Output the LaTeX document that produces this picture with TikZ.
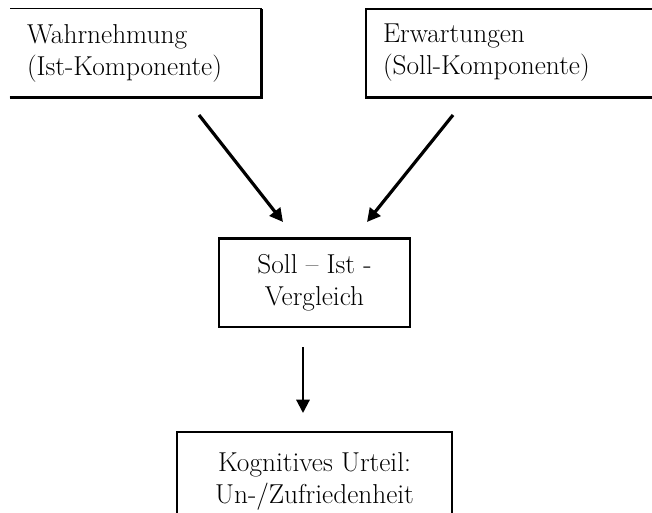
\documentclass[tikz,border=0pt]{standalone}
\usetikzlibrary{arrows.meta}

\begin{document}
\begin{tikzpicture}[x=0.75pt, y=-0.75pt,
	every node/.style={font=\fontsize{20.5}{24}\selectfont},
	box/.style={draw, line width=0.8pt, inner ysep=0pt},
	pfeil/.style={-{Triangle[length=10pt,width=10pt]}, line width=2.4pt}]
		\useasboundingbox (0,0) rectangle (652,513);
		\clip (0,0) rectangle (652,513);

		\path (135.5,53) node[minimum width=188.25pt, minimum height=66pt, inner xsep=12.75pt,
			text width=162.75pt, align=left] (ist) {Wahrnehmung\\(Ist-Komponente)}
		(523,53) node[box, minimum width=235.5pt, minimum height=66pt, inner xsep=12.75pt,
			text width=210pt, align=left] (soll) {Erwartungen\\(Soll-Komponente)}
		(314.5,283) node[box, minimum width=143.25pt, minimum height=66pt, align=center] (vgl) {Soll -- Ist -\\Vergleich}
		(314.5,481) node[box, minimum width=206.25pt, minimum height=73.5pt, align=center] (urteil) {Kognitives Urteil:\\Un-/Zufriedenheit};

		% Rahmen und dicke Kanten
		\draw[line width=0.8pt] (ist.south west) -- (ist.south east) -- (ist.north east) -- (ist.north west);
		\draw[line width=2.4pt] (ist.south west) -- (ist.south east) -- (ist.north east);
		\draw[line width=2.4pt] (soll.south west) -- (soll.south east);
		\draw[line width=2.4pt] (vgl.north west) -- (vgl.north east);

		\coordinate (a1) at (199,115);
		\coordinate (b1) at (283,222);
		\coordinate (a2) at (453,115);
		\coordinate (b2) at (367,222);
		\coordinate (a3) at (303,347);
		\coordinate (b3) at (303,413);

		\draw[pfeil] (a1) -- (b1);
		\draw[pfeil] (a2) -- (b2);
		\draw[pfeil, line width=1.6pt] (a3) -- (b3);
	\end{tikzpicture}
\end{document}
